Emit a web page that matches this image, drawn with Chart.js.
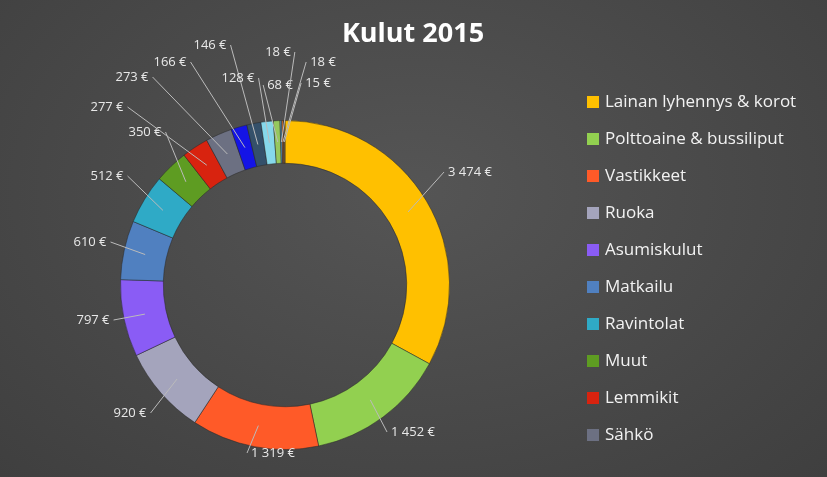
<!DOCTYPE html>
<html><head><meta charset="utf-8">
<script src="https://cdn.jsdelivr.net/npm/chart.js@4"></script>
<style>html,body{margin:0;padding:0;background:#454545}#w{width:827px;height:477px;background:radial-gradient(ellipse at 50% 40%,#555 0%,#3f3f3f 100%)}canvas{display:block}</style>
</head><body><div id="w"><canvas id="c" width="827" height="477"></canvas></div>
<script>
const values=[3474,1452,1319,920,797,610,512,350,277,273,166,146,128,68,18,18,15];
const valueLabels=['3 474 €','1 452 €','1 319 €','920 €','797 €','610 €','512 €','350 €','277 €','273 €','166 €','146 €','128 €','68 €','18 €','18 €','15 €'];
const legendNames=['Lainan lyhennys & korot','Polttoaine & bussiliput','Vastikkeet','Ruoka','Asumiskulut','Matkailu','Ravintolat','Muut','Lemmikit','Sähkö'];
const colors=['#FFC000','#92D050','#FF5A28','#A4A4BC','#8A5CF5','#5080C0','#2FAAC6','#5E9C22','#D8230F','#6C7082','#1414E6','#34506A','#86D8EA','#96C85E','#5AA0C8','#C86A30','#7A6040'];
const labelPos=[[470,172],[413,432],[273,453],[130,413],[93,320],[90,242],[107,176],[145,132],[107,107],[132,77],[170,62],[210,45],[238,78],[280,85],[278,52],[323,62],[318,83]];
const extra={id:'extra',afterDraw(ch){const c=ch.ctx;const m=ch.getDatasetMeta(0);c.save();
c.font='bold 27px "Open Sans",sans-serif';c.fillStyle='#fff';c.textAlign='center';c.textBaseline='middle';c.fillText('Kulut 2015',413,34);
c.font='13px "Open Sans",sans-serif';c.strokeStyle='#bbb';c.lineWidth=1;
m.data.forEach((a,i)=>{const ang=(a.startAngle+a.endAngle)/2;const r=(a.innerRadius+a.outerRadius)/2;const px=a.x+Math.cos(ang)*r,py=a.y+Math.sin(ang)*r;const [lx,ly]=labelPos[i];
c.beginPath();c.moveTo(px,py);const w=c.measureText(valueLabels[i]).width;const ex=lx<px?lx+w/2+4:lx-w/2-4;c.lineTo(ex,ly);c.stroke();
c.fillStyle='#e8e8e8';c.fillText(valueLabels[i],lx,ly);});
c.font='17px "Open Sans",sans-serif';c.textAlign='left';
legendNames.forEach((n,i)=>{const y=102+i*37;c.fillStyle=colors[i];c.fillRect(587,y-6,12,12);c.fillStyle='#f2f2f2';c.fillText(n,605,y);});
c.restore();}};
new Chart(document.getElementById('c'),{type:'doughnut',data:{labels:values.map((v,i)=>legendNames[i]||valueLabels[i]),datasets:[{data:values,backgroundColor:colors,borderColor:'rgba(40,40,40,0.5)',borderWidth:1}]},
options:{responsive:false,animation:false,cutout:'74%',layout:{padding:{left:120,right:377,top:120,bottom:27}},plugins:{legend:{display:false},tooltip:{enabled:false}}},plugins:[extra]});
</script></body></html>
